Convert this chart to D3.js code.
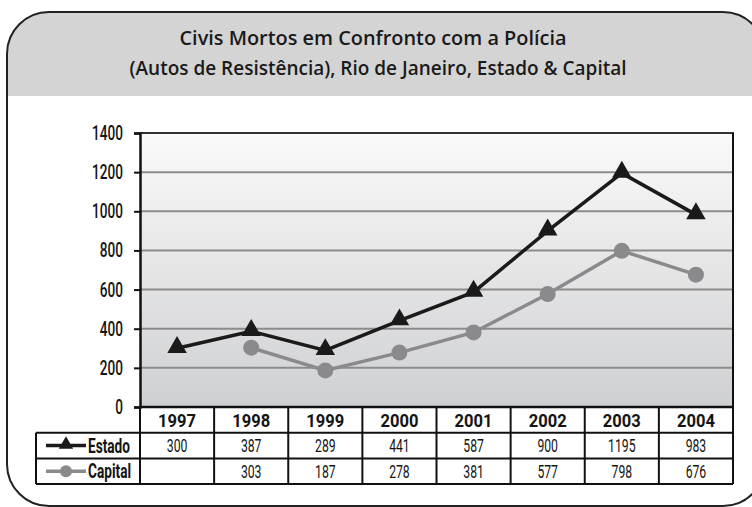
<!DOCTYPE html>
<html>
<head>
<meta charset="utf-8">
<script src="https://cdn.jsdelivr.net/npm/d3@7"></script>
<style>
  body { margin: 0; background: #fff; }
  text { font-family: Roboto, "DejaVu Sans", sans-serif; }
</style>
</head>
<body>
<div id="chart"></div>
<script>
const years = ["1997", "1998", "1999", "2000", "2001", "2002", "2003", "2004"];
const estado = [300, 387, 289, 441, 587, 900, 1195, 983];
const capital = [null, 303, 187, 278, 381, 577, 798, 676];
const yTicks = [0, 200, 400, 600, 800, 1000, 1200, 1400];
const titleLines = ["Civis Mortos em Confronto com a Polícia",
  "(Autos de Resistência), Rio de Janeiro, Estado & Capital"];

const W = 752, H = 507;
const plot = { left: 140, top: 133, right: 733, bottom: 407 };
const rowH = 25.7;

const svg = d3.select("#chart").append("svg")
  .attr("width", W)
  .attr("height", H);

// condensed text: place at (x,y) and squeeze horizontally
function ctext(g, x, y, str, size, weight, sx, anchor) {
  return g.append("text")
    .attr("transform", `translate(${x},${y}) scale(${sx},1)`)
    .attr("text-anchor", anchor || "middle")
    .style("font-size", size + "px")
    .style("font-weight", weight)
    .attr("fill", "#141414")
    .text(str);
}

const defs = svg.append("defs");
const grad = defs.append("linearGradient")
  .attr("id", "bg").attr("x1", 0).attr("y1", 0).attr("x2", 0).attr("y2", 1);
grad.append("stop").attr("offset", "0%").attr("stop-color", "#fafafa");
grad.append("stop").attr("offset", "100%").attr("stop-color", "#cfd0d2");

defs.append("clipPath").attr("id", "band")
  .append("rect").attr("x", 0).attr("y", 0).attr("width", W).attr("height", 96);

// frame
svg.append("rect")
  .attr("x", 7).attr("y", 12).attr("width", 758).attr("height", 494)
  .attr("rx", 42).attr("fill", "#d4d4d5").attr("clip-path", "url(#band)");
svg.append("rect")
  .attr("x", 7).attr("y", 12).attr("width", 758).attr("height", 494)
  .attr("rx", 42).attr("fill", "none").attr("stroke", "#222").attr("stroke-width", 2);

// title
svg.selectAll(".title")
  .data(titleLines)
  .enter().append("text")
  .attr("class", "title")
  .attr("x", (d, i) => i == 0 ? 373 : 378)
  .attr("y", (d, i) => i == 0 ? 45 : 75)
  .attr("text-anchor", "middle")
  .attr("textLength", (d, i) => i == 0 ? 387 : 497)
  .attr("lengthAdjust", "spacingAndGlyphs")
  .style("font-family", "'Open Sans', sans-serif")
  .style("font-size", "20px")
  .style("font-weight", 600)
  .attr("fill", "#1a1a1a")
  .text(d => d);

const x = d3.scaleBand().domain(years).range([plot.left, plot.right]);
const y = d3.scaleLinear().domain([0, 1400]).range([plot.bottom, plot.top]);

// plot background
svg.append("rect")
  .attr("x", plot.left).attr("y", plot.top)
  .attr("width", plot.right - plot.left).attr("height", plot.bottom - plot.top)
  .attr("fill", "url(#bg)");

// gridlines
svg.selectAll(".grid")
  .data(yTicks.slice(1, -1))
  .enter().append("line")
  .attr("x1", plot.left).attr("x2", plot.right)
  .attr("y1", d => y(d)).attr("y2", d => y(d))
  .attr("stroke", "#8c8c8c").attr("stroke-width", 2);

// plot border top/right
svg.append("path")
  .attr("d", `M${plot.left},${plot.top}H${plot.right}V${plot.bottom}`)
  .attr("fill", "none").attr("stroke", "#333").attr("stroke-width", 2);

// y axis
const yAxis = svg.append("g")
  .attr("transform", `translate(${plot.left},0)`)
  .call(d3.axisLeft(y).tickValues(yTicks).tickSize(6).tickFormat(""));
yAxis.select(".domain").attr("stroke", "#111").attr("stroke-width", 2.5);
yAxis.selectAll(".tick line").attr("stroke", "#111").attr("stroke-width", 2);
yTicks.forEach(t => ctext(svg, 123, y(t) + 7, t, 20, 500, 0.68, "end"));

// lines
const line = d3.line()
  .defined(d => d.v != null)
  .x(d => x(d.year) + x.bandwidth() / 2)
  .y(d => y(d.v));

const estadoPts = years.map((yr, i) => ({ year: yr, v: estado[i] }));
const capitalPts = years.map((yr, i) => ({ year: yr, v: capital[i] }));

svg.append("path")
  .datum(capitalPts)
  .attr("d", line)
  .attr("fill", "none").attr("stroke", "#8a8a8c").attr("stroke-width", 3.5);
svg.selectAll(".cap")
  .data(capitalPts.filter(d => d.v != null))
  .enter().append("circle")
  .attr("cx", d => x(d.year) + x.bandwidth() / 2)
  .attr("cy", d => y(d.v))
  .attr("r", 8)
  .attr("fill", "#8a8a8c");

svg.append("path")
  .datum(estadoPts)
  .attr("d", line)
  .attr("fill", "none").attr("stroke", "#1a1a1a").attr("stroke-width", 3.5);
const tri = d3.symbol().type(d3.symbolTriangle).size(165);
svg.selectAll(".est")
  .data(estadoPts)
  .enter().append("path")
  .attr("transform", d => `translate(${x(d.year) + x.bandwidth() / 2},${y(d.v) - 1})`)
  .attr("d", tri)
  .attr("fill", "#1a1a1a");

// data table
const tbl = svg.append("g");
const tTop = plot.bottom;
const labelLeft = 36;

tbl.append("line").attr("x1", plot.left).attr("x2", plot.right)
  .attr("y1", tTop).attr("y2", tTop).attr("stroke", "#111").attr("stroke-width", 2.5);
[1, 2, 3].forEach(r => {
  tbl.append("line")
    .attr("x1", labelLeft).attr("x2", plot.right)
    .attr("y1", tTop + r * rowH).attr("y2", tTop + r * rowH)
    .attr("stroke", "#111").attr("stroke-width", 2);
});
tbl.append("line").attr("x1", labelLeft).attr("x2", labelLeft)
  .attr("y1", tTop + rowH).attr("y2", tTop + 3 * rowH)
  .attr("stroke", "#111").attr("stroke-width", 2);
years.forEach(yr => {
  tbl.append("line")
    .attr("x1", x(yr)).attr("x2", x(yr))
    .attr("y1", tTop).attr("y2", tTop + 3 * rowH)
    .attr("stroke", "#111").attr("stroke-width", 2);
});
tbl.append("line").attr("x1", plot.right).attr("x2", plot.right)
  .attr("y1", plot.top).attr("y2", tTop + 3 * rowH)
  .attr("stroke", "#111").attr("stroke-width", 2);

// year headers
years.forEach(yr => ctext(tbl, x(yr) + x.bandwidth() / 2, tTop + 19.5, yr, 18, 700, 0.92));

const rows = [
  { name: "Estado", vals: estado, color: "#1a1a1a", mark: "tri" },
  { name: "Capital", vals: capital, color: "#8a8a8c", mark: "circle" }
];

rows.forEach((row, r) => {
  const cy = tTop + (r + 1) * rowH + rowH / 2;
  years.forEach((yr, i) => {
    if (row.vals[i] != null)
      ctext(tbl, x(yr) + x.bandwidth() / 2, cy + 6.5, row.vals[i], 18.5, 400, 0.66);
  });

  // legend key
  tbl.append("line")
    .attr("x1", 46).attr("x2", 86)
    .attr("y1", cy).attr("y2", cy)
    .attr("stroke", row.color).attr("stroke-width", 3.5);
  if (row.mark == "tri") {
    tbl.append("path")
      .attr("transform", `translate(66,${cy - 1})`)
      .attr("d", d3.symbol().type(d3.symbolTriangle).size(90))
      .attr("fill", row.color);
  } else {
    tbl.append("circle").attr("cx", 66).attr("cy", cy).attr("r", 6).attr("fill", row.color);
  }
  ctext(tbl, 88, cy + 7, row.name, 19.5, 700, 0.7, "start");
});
</script>
</body>
</html>
